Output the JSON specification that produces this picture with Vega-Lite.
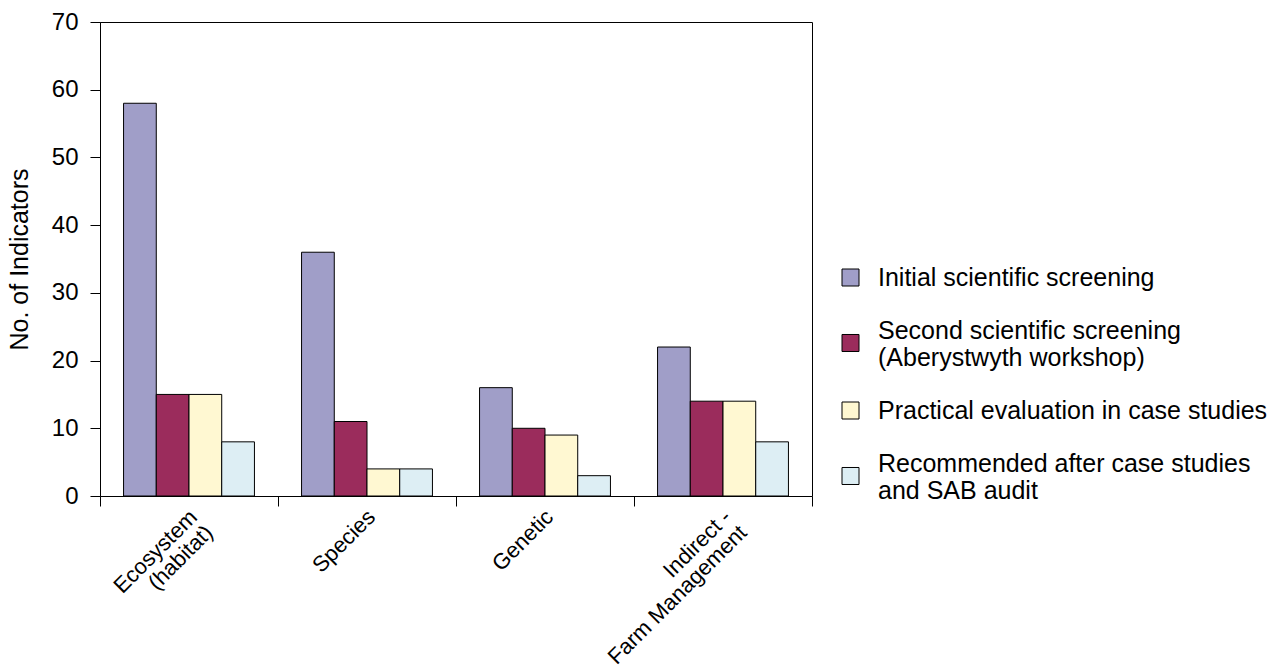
{
  "$schema": "https://vega.github.io/schema/vega-lite/v6.json",
  "width": 712,
  "height": 474,
  "autosize": "none",
  "padding": {"left": 100, "top": 22, "right": 462, "bottom": 174},
  "config": {
    "font": "Liberation Sans",
    "view": {"stroke": "#000000", "strokeWidth": 1},
    "axis": {"grid": false, "domainColor": "#000000", "tickColor": "#000000", "labelColor": "#000000", "titleColor": "#000000", "labelFont": "Liberation Sans", "titleFont": "Liberation Sans"}
  },
  "data": {
    "values": [
      {"cat": "Ecosystem (habitat)", "stage": "Initial scientific screening", "n": 58},
      {"cat": "Ecosystem (habitat)", "stage": "Second scientific screening (Aberystwyth workshop)", "n": 15},
      {"cat": "Ecosystem (habitat)", "stage": "Practical evaluation in case studies", "n": 15},
      {"cat": "Ecosystem (habitat)", "stage": "Recommended after case studies and SAB audit", "n": 8},
      {"cat": "Species", "stage": "Initial scientific screening", "n": 36},
      {"cat": "Species", "stage": "Second scientific screening (Aberystwyth workshop)", "n": 11},
      {"cat": "Species", "stage": "Practical evaluation in case studies", "n": 4},
      {"cat": "Species", "stage": "Recommended after case studies and SAB audit", "n": 4},
      {"cat": "Genetic", "stage": "Initial scientific screening", "n": 16},
      {"cat": "Genetic", "stage": "Second scientific screening (Aberystwyth workshop)", "n": 10},
      {"cat": "Genetic", "stage": "Practical evaluation in case studies", "n": 9},
      {"cat": "Genetic", "stage": "Recommended after case studies and SAB audit", "n": 3},
      {"cat": "Indirect - Farm Management", "stage": "Initial scientific screening", "n": 22},
      {"cat": "Indirect - Farm Management", "stage": "Second scientific screening (Aberystwyth workshop)", "n": 14},
      {"cat": "Indirect - Farm Management", "stage": "Practical evaluation in case studies", "n": 14},
      {"cat": "Indirect - Farm Management", "stage": "Recommended after case studies and SAB audit", "n": 8}
    ]
  },
  "mark": {"type": "bar", "stroke": "#000000", "strokeWidth": 1},
  "encoding": {
    "x": {
      "field": "cat", "type": "nominal", "sort": null,
      "scale": {"paddingInner": 0, "paddingOuter": 0},
      "axis": {
        "title": null, "domain": false, "tickBand": "extent", "tickSize": 10,
        "labelAngle": -45, "labelAlign": "right", "labelBaseline": "top",
        "labelFontSize": 22, "labelPadding": 0, "labelLineHeight": 22, "labelLimit": 0, "labelOffset": -3,
        "labelExpr": "datum.label == 'Ecosystem (habitat)' ? ['Ecosystem', '(habitat)'] : datum.label == 'Indirect - Farm Management' ? ['Indirect -', 'Farm Management'] : datum.label"
      }
    },
    "xOffset": {
      "field": "stage", "type": "nominal", "sort": null,
      "scale": {"paddingInner": 0, "paddingOuter": 0.72}
    },
    "y": {
      "field": "n", "type": "quantitative",
      "scale": {"domain": [0, 70]},
      "axis": {
        "title": "No. of Indicators", "titleFontSize": 25, "titleFontWeight": "normal", "titlePadding": 19,
        "values": [0, 10, 20, 30, 40, 50, 60, 70], "tickSize": 10, "labelFontSize": 24, "labelPadding": 12
      }
    },
    "color": {
      "field": "stage", "type": "nominal", "sort": null,
      "scale": {
        "domain": ["Initial scientific screening", "Second scientific screening (Aberystwyth workshop)", "Practical evaluation in case studies", "Recommended after case studies and SAB audit"],
        "range": ["#A09EC8", "#9B2C5C", "#FFF8D2", "#DDEEF4"]
      },
      "legend": {
        "title": null, "orient": "none", "legendX": 738, "legendY": 243,
        "symbolType": "square", "symbolSize": 289, "symbolStrokeColor": "#000000", "symbolStrokeWidth": 1,
        "labelFontSize": 25, "labelColor": "#000000", "labelLimit": 600, "labelOffset": 15,
        "rowPadding": 27, "labelLineHeight": 25,
        "labelExpr": "datum.label == 'Second scientific screening (Aberystwyth workshop)' ? ['Second scientific screening', '(Aberystwyth workshop)'] : datum.label == 'Recommended after case studies and SAB audit' ? ['Recommended after case studies', 'and SAB audit'] : datum.label",
        "encode": {
          "symbols": {
            "update": {
              "shape": {"signal": "datum.value == 'Second scientific screening (Aberystwyth workshop)' || datum.value == 'Recommended after case studies and SAB audit' ? 'M-1,0.47H1V2.47H-1Z' : 'square'"}
            }
          }
        }
      }
    }
  }
}
